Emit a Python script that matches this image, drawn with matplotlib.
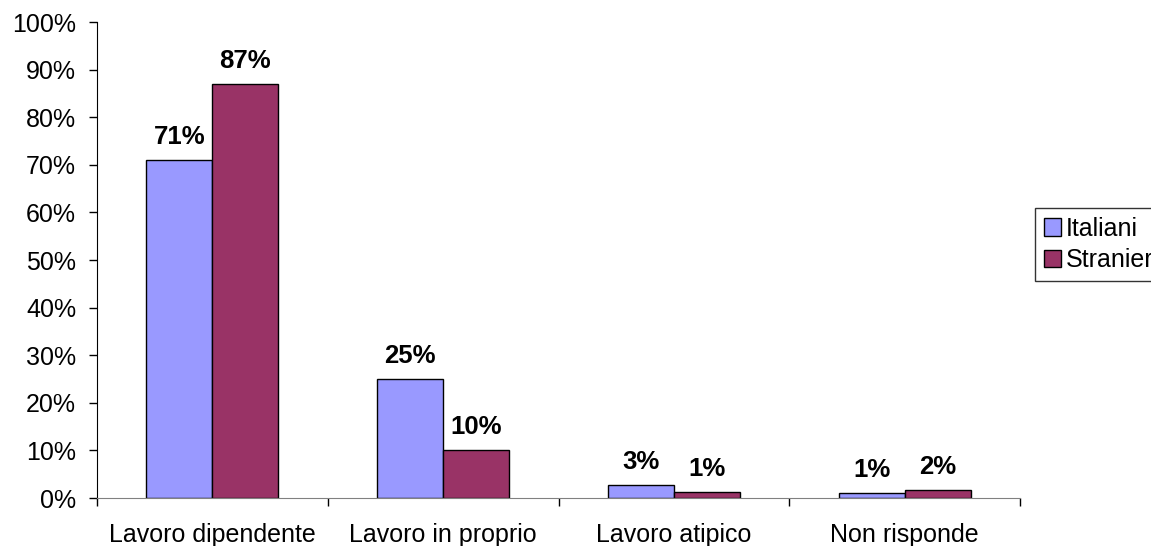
import matplotlib.pyplot as plt
import numpy as np

# Data
categories = ['Lavoro dipendente', 'Lavoro in proprio', 'Lavoro atipico', 'Non risponde']
italiani = [71, 25, 2.7, 1.0]
stranieri = [87, 10, 1.3, 1.6]
italiani_labels = ['71%', '25%', '3%', '1%']
stranieri_labels = ['87%', '10%', '1%', '2%']
yticks = [0, 10, 20, 30, 40, 50, 60, 70, 80, 90, 100]

plt.rcParams['font.family'] = ['Liberation Sans', 'DejaVu Sans']

fig = plt.figure(figsize=(11.51, 5.46), dpi=100)
ax = fig.add_axes([0.0843, 0.0879, 0.8019, 0.8718])

x = np.arange(len(categories))
w = 0.286

b1 = ax.bar(x - w / 2, italiani, w, color='#9999FF', edgecolor='black', linewidth=1, label='Italiani')
b2 = ax.bar(x + w / 2, stranieri, w, color='#993366', edgecolor='black', linewidth=1, label='Stranieri')

# Value labels
for bars, labels in [(b1, italiani_labels), (b2, stranieri_labels)]:
    for bar, lab in zip(bars, labels):
        ax.annotate(lab, (bar.get_x() + bar.get_width() / 2, bar.get_height()),
                    xytext=(0, 8), textcoords='offset points',
                    ha='center', va='bottom', fontsize=18.5, fontweight='bold')

ax.set_xlim(-0.5, 3.5)
ax.set_ylim(0, 100)
ax.set_yticks(yticks)
ax.set_yticklabels([f'{v}%' for v in yticks])
ax.tick_params(axis='y', direction='out', length=6, width=1, pad=9, labelsize=18)

ax.set_xticks(x)
ax.set_xticklabels(categories)
ax.tick_params(axis='x', which='major', length=0, pad=18, labelsize=18)
ax.set_xticks(np.arange(-0.5, 4, 1), minor=True)
ax.tick_params(axis='x', which='minor', direction='out', length=6, width=1, color='black')

ax.spines['top'].set_visible(False)
ax.spines['right'].set_visible(False)
ax.spines['bottom'].set_color('#808080')
ax.spines['left'].set_color('black')

# legend sits at the right edge; "Stranieri" is cut off there as in the original
leg = fig.legend(loc='upper left', bbox_to_anchor=(1035 / 1151, 1 - 208 / 546),
                 fontsize=18, frameon=True, fancybox=False, edgecolor='black',
                 handlelength=0.7, handleheight=0.7, handletextpad=0.2,
                 borderpad=0.35, labelspacing=0.3, borderaxespad=0)
leg.get_frame().set_linewidth(1)

plt.savefig('out.png', dpi=100)
